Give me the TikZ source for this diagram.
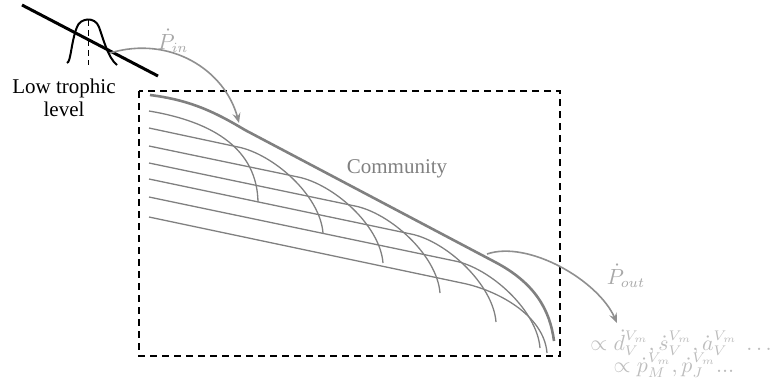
\documentclass[tikz,border=0pt]{standalone}
\usepackage{fontspec}
\setmainfont{Liberation Serif}
\usetikzlibrary{arrows.meta}
\definecolor{curvegray}{gray}{0.5}
\definecolor{arrowgray}{gray}{0.56}
\definecolor{labelgray}{gray}{0.66}
\definecolor{formgray}{gray}{0.74}
\tikzset{
  thincurve/.style={draw=curvegray, line width=0.65pt},
  thickcurve/.style={draw=curvegray, line width=1.3pt},
  fluxarrow/.style={draw=arrowgray, line width=0.8pt, -{Stealth[length=5pt,width=4pt,inset=1.8pt]}},
  boxdash/.style={draw=black, line width=1pt, dash pattern=on 3.6pt off 2.4pt},
  txt/.style={font=\fontsize{10.5}{11.5}\selectfont, inner sep=0pt},
}
\begin{document}
\begin{tikzpicture}[x=0.5pt,y=-0.5pt]
\useasboundingbox (0,0) rectangle (774,387);
% dashed community box
\draw[boxdash] (139,91) rectangle (560,356);
% low trophic level
\draw[black, line width=1.5pt] (22,5) -- (158,76);
\draw[black, line width=1pt] (67,63) .. controls (71,62) and (71,42) .. (77,27)
  .. controls (80,18) and (95,16) .. (99,27) .. controls (103,38) and (108,58) .. (117,65);
\draw[black, line width=0.5pt, dash pattern=on 3pt off 2pt] (88,20) -- (88,65);
\node[txt, align=center] (low) at (64,98) {Low trophic\\level};
% community curves
\draw[thincurve] (149,111) .. controls (215,122) and (257,150) .. (258,202);
\draw[thincurve] (149,128) -- (238,147) .. controls (273,154) and (320,195) .. (323,233);
\draw[thincurve] (149,146) -- (298,177) .. controls (333,184) and (380,225) .. (383,263);
\draw[thincurve] (149,163) -- (355,206) .. controls (390,213) and (437,255) .. (440,293);
\draw[thincurve] (149,179) -- (411,234) .. controls (446,241) and (493,284) .. (496,322);
\draw[thincurve] (149,197) -- (455,261) .. controls (490,268) and (537,310) .. (540,348);
\draw[thincurve] (149,217) -- (462,283) .. controls (497,290) and (544,315) .. (547,353);
\draw[thickcurve] (150,95) .. controls (190,100) and (215,112) .. (245,130) -- (495,262)
  .. controls (535,283) and (550,310) .. (554,341);
\node[txt, text=curvegray] (comm) at (397,169) {Community};
% fluxes
\coordinate (pinstart) at (110,53);
\coordinate (pintip) at (239,123);
\draw[fluxarrow] (pinstart) .. controls (170,35) and (225,70) .. (pintip);
\node[txt, text=labelgray] (pin) at (173,41) {$\dot P_{in}$};
\coordinate (poutstart) at (487,254);
\coordinate (pouttip) at (617,323);
\draw[fluxarrow] (poutstart) .. controls (528,240) and (598,280) .. (pouttip);
\node[txt, text=labelgray] (pout) at (626,276) {$\dot P_{out}$};
\node[txt, text=formgray, anchor=base west] (f1) at (590,350)
  {$\propto \dot d_V^{V_m}, \dot s_V^{V_m}, \dot a_V^{V_m}\ \ldots$};
\node[txt, text=formgray, anchor=base] (f2) at (674,372)
  {$\propto \dot p_M^{V_m}, \dot p_J^{V_m}...$};
\end{tikzpicture}
\end{document}
